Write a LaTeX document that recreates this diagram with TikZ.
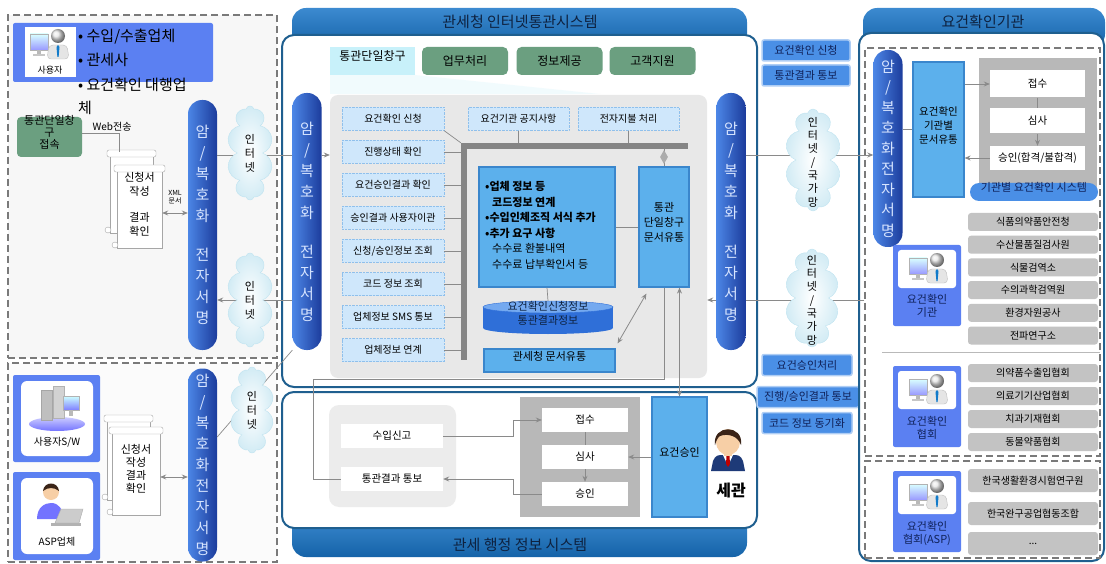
\documentclass[tikz,border=0pt]{standalone}
\usepackage{fontspec}
\setmainfont{Noto Sans CJK KR}
\usetikzlibrary{shapes.geometric,shapes.symbols,arrows.meta,fit,calc}

\definecolor{frameblue}{HTML}{1F5F8F}
\definecolor{hdrtop}{HTML}{3C8AD0}
\definecolor{hdrbot}{HTML}{1563A8}
\definecolor{titleink}{HTML}{0E2240}
\definecolor{pilllight}{HTML}{4C86E6}
\definecolor{pilldark}{HTML}{1C3C9C}
\definecolor{pillink}{HTML}{D6E4FF}
\definecolor{listfill}{HTML}{CFE7FB}
\definecolor{listedge}{HTML}{8FC0EC}
\definecolor{docblue}{HTML}{5CB0EC}
\definecolor{docedge}{HTML}{3A86CC}
\definecolor{dbblue}{HTML}{2F6FD8}
\definecolor{dbtop}{HTML}{74A9F0}
\definecolor{tabgreen}{HTML}{6B9F80}
\definecolor{tabcyan}{HTML}{C8F1FA}
\definecolor{userblue}{HTML}{5B80F2}
\definecolor{areagray}{HTML}{E8E8E8}
\definecolor{stepgray}{HTML}{B8B8B8}
\definecolor{orggray}{HTML}{C3C3C3}
\definecolor{tagblue}{HTML}{4A8FE6}
\definecolor{tagink}{HTML}{10225A}
\definecolor{busgray}{HTML}{858585}
\definecolor{arrowgray}{HTML}{8A8A8A}
\definecolor{dashgray}{HTML}{7A7A7A}
\definecolor{cloudedge}{HTML}{BFE3F0}
\definecolor{suit}{HTML}{1E3A78}
\definecolor{hair}{HTML}{3A2418}
\definecolor{skin}{HTML}{F7CFA6}

\newcommand\fsz[2]{\fontsize{#1}{#2}\selectfont}

% rolled paper form: body, roll on top, curl at the foot
\newcommand\sheet[4]{%
  \draw[gray!70, fill=white] (#1,#2) rectangle (#3,#4);
  \draw[gray!70, fill=white, rounded corners=2] (#1-3,#2-5) rectangle (#3+3,#2+2);
  \draw[gray!70, fill=white] (#1-2,#4-3) circle (3);}

% user at a screen
\newcommand\usericon[2]{%
  \begin{scope}[shift={(#1,#2)}]
    \shade[top color=cyan!15, bottom color=blue!40, draw=gray!60] (-20,-10) rectangle (-2,6);
    \fill[gray!55] (-13,6) rectangle (-9,10);
    \fill[gray!45] (-17,10) rectangle (-5,12);
    \fill[gray!20, draw=gray!50, rounded corners=4] (-3,15) -- (-1,1) -- (17,1) -- (19,15) -- cycle;
    \shade[ball color=gray!20] (8,-8) circle (7);
    \fill[cyan!60!blue] (8,1) -- (9.5,3) -- (8.6,13) -- (7.4,13) -- (6.5,3) -- cycle;
  \end{scope}}

\tikzset{
  every node/.style={inner sep=0pt},
  zone/.style={draw=dashgray, line width=1.3, dash pattern=on 7pt off 4pt},
  frame/.style={draw=frameblue, line width=2, fill=white, rounded corners=12},
  pill/.style={rounded corners=14, left color=pilllight, right color=pilldark, text=pillink,
    minimum width=29, align=center},
  lst/.style={draw=listedge, densely dotted, fill=listfill, minimum width=102, minimum height=23,
    font=\fsz{10}{12}},
  docbox/.style={draw=docedge, fill=docblue, line width=1.2},
  stepbox/.style={fill=white, minimum width=86, minimum height=24, font=\fsz{10.5}{12}},
  orgbox/.style={fill=orggray, rounded corners=3, minimum width=130, minimum height=18, font=\fsz{10}{12}},
  tag/.style={fill=tagblue, draw=tagblue!45, line width=1.5, rounded corners=2, minimum width=88,
    minimum height=21, text=tagink, font=\fsz{11}{12}},
  gtab/.style={fill=tabgreen, rounded corners=5, minimum width=86, minimum height=28, font=\fsz{12}{14}},
  net/.style={cloud, cloud puffs=10, aspect=0.5, inner color=white, outer color=cloudedge!70,
    draw=cloudedge},
  wire/.style={draw=arrowgray, line width=0.7},
  flow/.style={draw=arrowgray, line width=0.8, -{Stealth[length=6pt,width=5pt]}},
  both/.style={draw=arrowgray, line width=0.8, {Stealth[length=6pt,width=5pt]}-{Stealth[length=6pt,width=5pt]}},
}

\begin{document}
\begin{tikzpicture}[x=1pt,y=-1pt]
\useasboundingbox (0,0) rectangle (1106,564);

% ---------- applicants, web side
\node[zone, fill=gray!6, fit={(8,15)(277,358)}] (zoneWeb) {};
\node[fill=userblue, rounded corners=2, fit={(13,23)(213,82)}] (users) {};
\node[fill=white, fit={(25,27)(76,77)}] (userPic) {};
\usericon{50}{44}
\node[font=\fsz{9}{10}] (userLbl) at (50,70) {사용자};
\node[anchor=west, font=\fsz{15}{18}] (kind1) at (78,37) {• 수입/수출업체};
\node[anchor=west, font=\fsz{15}{18}] (kind2) at (78,60) {• 관세사};
\node[anchor=west, font=\fsz{15}{18}] (kind3) at (78,85) {• 요건확인 대행업};
\node[anchor=west, font=\fsz{15}{18}] (kind4) at (78,108) {체};
\node[fill=tabgreen, rounded corners=4, fit={(17,117)(82,157)}, align=center, font=\fsz{11}{12}] (portal) {통관단일창\\구\\접속};
\node[font=\fsz{10}{12}] (webLbl) at (112,127) {Web전송};
\coordinate (webIn) at (119,152);
\sheet{110}{155}{153}{233}
\sheet{117}{170}{162}{248}
\node[fit={(117,170)(162,248)}, align=center, font=\fsz{11}{14}] (formA) {신청서\\작성\\[12pt]결과\\확인};
\node[align=center, font=\fsz{7}{8}] (xmlLbl) at (175,197) {XML\\문서};
\draw[wire] (portal.east |- 0,133) -| (webIn);
\node[pill, minimum height=250, font=\fsz{15}{21}] (encL1) at (202.5,225) {암\\/\\복\\호\\화\\[18pt]전\\자\\서\\명};
\draw[both] (formA.east |- 0,213) -- (encL1.west |- 0,213);

% ---------- applicants, software side
\node[zone, fill=gray!3, fit={(8,363)(277,562)}] (zoneSW) {};
\node[fill=userblue, rounded corners=2, fit={(13,375)(100,462)}] (swBox) {};
\node[fill=white, rounded corners=6, fit={(21,381)(93,456)}] (swPic) {};
\begin{scope}[shift={(57,408)}]
  \shade[top color=blue!20, bottom color=blue!55] (0,16) ellipse (28 and 7);
  \fill[gray!50, draw=gray!70] (-16,-18) rectangle (-5,12);
  \fill[gray!35, draw=gray!60] (-4,-22) rectangle (7,10);
  \shade[top color=cyan!20, bottom color=blue!50, draw=gray!60] (6,-12) rectangle (22,2);
  \fill[gray!55] (12,2) rectangle (16,8);
\end{scope}
\node[font=\fsz{10}{12}] (swLbl) at (57,442) {사용자S/W};
\node[fill=userblue, rounded corners=2, fit={(13,472)(100,560)}] (aspBox) {};
\node[fill=white, rounded corners=6, fit={(21,478)(93,554)}] (aspPic) {};
\begin{scope}[shift={(57,505)}]
  \fill[blue!55] (-20,14) .. controls (-20,2) and (-12,-2) .. (-6,-2) .. controls (2,-2) and (6,4) .. (6,14) -- cycle;
  \fill[skin] (-6,-13) circle (8);
  \fill[hair] (-14,-14) .. controls (-13,-24) and (1,-24) .. (2,-14) .. controls (-3,-18) and (-9,-18) .. (-14,-14);
  \fill[gray!40, draw=gray!65] (-2,18) -- (4,4) -- (26,4) -- (22,18) -- cycle;
  \fill[gray!60] (-6,18) rectangle (24,21);
\end{scope}
\node[font=\fsz{10}{12}] (aspLbl) at (57,542) {ASP업체};
\sheet{107}{420}{150}{500}
\sheet{112}{432}{160}{515}
\node[fit={(112,432)(160,515)}, align=center, font=\fsz{11}{13}] (formB) {신청서\\작성\\결과\\확인};
\node[pill, minimum height=193, font=\fsz{15}{21}] (encL2) at (202.5,465) {암\\/\\복\\호\\화\\전\\자\\서\\명};
\draw[both] (formB.east |- 0,477) -- (encL2.west |- 0,477);

% ---------- internet clearance system
\shade[top color=hdrtop, bottom color=hdrbot, rounded corners=14] (292,48) -- (292,8) -- (747,8) -- (747,48) -- cycle;
\node[text=titleink, font=\fsz{15}{18}] (inetTitle) at (520,22) {관세청 인터넷통관시스템};
\node[frame, fit={(282,35)(757,387)}] (inet) {};
\fill[tabcyan!60, opacity=0.4] (330,75) -- (415,75) -- (600,94) -- (330,94) -- cycle;
\node[fill=tabcyan, fit={(330,47)(415,75)}, font=\fsz{12}{14}] (tabPortal) {통관단일창구};
\node[gtab] (tabWork) at (465,61) {업무처리};
\node[gtab] (tabInfo) at (559.5,61) {정보제공};
\node[gtab] (tabHelp) at (652.5,61) {고객지원};
\node[fill=areagray, rounded corners=8, fit={(330,95)(707,378)}] (counter) {};

\node[lst] (req) at (393,119) {요건확인 신청};
\node[lst] (track) at (393,152) {진행상태 확인};
\node[lst] (resChk) at (393,185) {요건승인결과 확인};
\node[lst] (handover) at (393,218) {승인결과 사용자이관};
\node[lst] (inquiry) at (393,251) {신청/승인정보 조회};
\node[lst] (codeInq) at (393,284) {코드 정보 조회};
\node[lst] (sms) at (393,317) {업체정보 SMS 통보};
\node[lst] (link) at (393,350) {업체정보 연계};
\node[lst, minimum width=101] (notice) at (518.5,119) {요건기관 공지사항};
\node[lst, minimum width=101] (epay) at (628.5,119) {전자지불 처리};

\node[fill=busgray, fit={(461,143)(467,360)}] (busV) {};
\node[fill=busgray, fit={(461,143)(688,149)}] (busH) {};
\draw[wire] (req.south east) -- (busV.north west);
\draw[wire] (track.east) -- (track.east -| busV.west);
\draw[wire] (resChk.east) -- (resChk.east -| busV.west);
\draw[wire] (handover.east) -- (handover.east -| busV.west);
\draw[wire] (inquiry.east) -- (inquiry.east -| busV.west);
\draw[wire] (codeInq.east) -- (codeInq.east -| busV.west);
\draw[wire] (sms.east) -- (sms.east -| busV.west);
\draw[wire] (link.east) -- (link.east -| busV.west);
\draw[wire] (notice.south) -- (notice.south |- busH.north);
\draw[wire] (epay.south) -- (epay.south |- busH.north);

\node[docbox, fit={(479,167)(615,287)}] (dataBox) {};
\node[anchor=north west, align=left, font=\fsz{11}{15.6}] (dataTxt) at (485,181) {%
  {\bfseries •업체 정보 등}\\
  \hspace*{7pt}{\bfseries 코드정보 연계}\\
  {\bfseries •수입인체조직 서식 추가}\\
  {\bfseries •추가 요구 사항}\\
  \hspace*{7pt}수수료 환불내역\\
  \hspace*{7pt}수수료 납부확인서 등};
\node[docbox, fit={(639,167)(689,287)}, align=center, font=\fsz{11}{15}] (hub) {통관\\단일창구\\문서유통};
\draw[wire] (busH.south -| hub.north) -- (hub.north);
\node[diamond, fill=gray!65, minimum width=8, minimum height=14] (joint) at (hub.north |- 0,157) {};
\draw[wire] (dataBox.east |- 0,227) -- (hub.west |- 0,227);

% database drum
\fill[dbblue] (483,307) rectangle (613,328);
\fill[dbblue] (548,328) ellipse (65 and 6);
\fill[dbtop, draw=dbblue] (548,307) ellipse (65 and 6);
\node[fit={(483,301)(613,334)}, align=center, text=titleink, font=\fsz{11}{14}] (db) {요건확인신청정보\\통관결과정보};
\draw[wire] (dataBox.south) -- (db.north);
\node[docbox, fit={(484,349)(615,372)}, font=\fsz{11}{12}] (docFlow) {관세청 문서유통};
\draw[both] ($(docFlow.north east)+(2,-5)$) -- ($(hub.south west)+(8,6)$);

\node[pill, minimum height=257, font=\fsz{15}{21}] (encC1) at (307,221.5) {암\\/\\복\\호\\화\\[18pt]전\\자\\서\\명};
\node[pill, minimum height=257, font=\fsz{15}{21}] (encC2) at (731,221.5) {암\\/\\복\\호\\화\\[18pt]전\\자\\서\\명};

% ---------- customs administration system
\shade[top color=hdrtop, bottom color=hdrbot, rounded corners=14] (292,515) -- (292,557) -- (747,557) -- (747,515) -- cycle;
\node[text=titleink, font=\fsz{15}{18}] (adminTitle) at (520,545) {관세 행정 정보 시스템};
\node[frame, fit={(282,392)(757,528)}] (unipass) {};
\node[fill=gray!15, rounded corners=10, fit={(329,405)(456,507)}] (desk) {};
\node[stepbox, minimum width=102] (declare) at (392,436) {수입신고};
\node[stepbox, minimum width=102] (notify) at (392,479) {통관결과 통보};
\node[fill=stepgray, fit={(520,397)(640,517)}] (procArea) {};
\node[stepbox] (recv) at (585,420) {접수};
\node[stepbox] (review) at (585,457) {심사};
\node[stepbox] (grant) at (585,494) {승인};
\node[docbox, fit={(652,397)(707,517)}, font=\fsz{11}{12}] (approve) {요건승인};
\draw[flow] (declare.east) -- (513,436) |- (recv.west);
\draw[wire] (recv.south) -- (review.north);
\draw[flow] (review.south) -- (grant.north);
\draw[flow] (grant.west) -- (513,494) |- (notify.east);
\draw[flow] (approve.west |- review.east) -- (review.east);
\draw[wire] (hub.south) -- (hub.south |- 0,379) -- (313,379) |- (notify.west);
\draw[both] (approve.north |- hub.south) -- (approve.north);

% customs officer
\begin{scope}[shift={(728,442)}]
  \fill[suit] (-17,29) -- (-15,19) .. controls (-12,13) .. (0,13) .. controls (12,13) .. (15,19) -- (17,29) -- cycle;
  \fill[white] (-5,13) -- (5,13) -- (0,24) -- cycle;
  \fill[red!75!black] (-1.5,14) -- (1.5,14) -- (2,22) -- (0,25) -- (-2,22) -- cycle;
  \fill[skin] (-4,8) rectangle (4,14);
  \fill[skin] (0,0) ellipse (12 and 13);
  \fill[hair] (-13,3) .. controls (-16,-18) and (16,-18) .. (13,3) .. controls (10,-6) and (0,-9) .. (-8,-6) .. controls (-11,-4) and (-12,0) .. (-13,3);
\end{scope}
\node[font=\fsz{16}{18}\bfseries] (officer) at (731,490) {세관};

% ---------- messages exchanged with the agencies
\node[tag] (tagReq) at (806,50.5) {요건확인 신청};
\node[tag] (tagRes) at (806,75.5) {통관결과 통보};
\node[tag, minimum width=90] (tagApp) at (807,365) {요건승인처리};
\node[tag, minimum width=102] (tagProg) at (808,397) {진행/승인결과 통보};
\node[tag, minimum width=90] (tagCode) at (807,423) {코드 정보 동기화};

% ---------- requirement confirmation agencies
\shade[top color=hdrtop, bottom color=hdrbot, rounded corners=14] (863,48) -- (863,8) -- (1105,8) -- (1105,48) -- cycle;
\node[text=titleink, font=\fsz{15}{18}] (agencyTitle) at (983,22) {요건확인기관};
\node[frame, fit={(859,33)(1104,561)}] (agency) {};
\node[zone, fit={(865,48)(1100,456)}] (zoneOrg) {};
\node[zone, fit={(865,461)(1100,558)}] (zoneAsp) {};
\node[pill, minimum height=197, font=\fsz{15}{20.5}] (encR) at (888,148.5) {암\\/\\복\\호\\화\\전\\자\\서\\명};
\node[docbox, fit={(913,62)(964,197)}, align=center, font=\fsz{10.5}{14}] (orgDoc) {요건확인\\기관별\\문서유통};
\node[fill=stepgray, fit={(979,58)(1097,190)}] (orgArea) {};
\node[stepbox, minimum width=95, minimum height=27] (orgRecv) at (1037.5,84) {접수};
\node[stepbox, minimum width=95, minimum height=25] (orgReview) at (1037.5,121) {심사};
\node[stepbox, minimum width=95, minimum height=24] (orgGrant) at (1037.5,158) {승인(합격/불합격)};
\node[fill=tagblue, rounded corners=9, fit={(970,183)(1098,201)}, text=tagink, font=\fsz{11}{12}] (orgSys) {기관별 요건확인 시스템};
\draw[flow] (orgDoc.east |- orgRecv.west) -- (orgRecv.west);
\draw[wire] (orgRecv.south) -- (orgReview.north);
\draw[flow] (orgReview.south) -- (orgGrant.north);
\draw[flow] (orgGrant.west) -- (orgDoc.east |- orgGrant.west);
\draw[wire] (encR.east |- orgDoc.west) -- (orgDoc.west);

\node[orgbox] (kfda) at (1033,222) {식품의약품안전청};
\node[orgbox] (nfqs) at (1033,244.7) {수산물품질검사원};
\node[orgbox] (npqs) at (1033,267.4) {식물검역소};
\node[orgbox] (nvrqs) at (1033,290) {수의과학검역원};
\node[orgbox] (envc) at (1033,312.8) {환경자원공사};
\node[orgbox] (rra) at (1033,335.5) {전파연구소};
\node[fill=userblue, rounded corners=2, fit={(893,245)(961,326)}] (orgA) {};
\node[fill=white, rounded corners=3, fit={(898,250)(956,288)}] (orgApic) {};
\usericon{929}{268}
\node[align=center, text=tagink, font=\fsz{11}{13}] (orgAlbl) at (927,306) {요건확인\\기관};
\draw[gray!55] (882,352) -- (1100,352);

\node[orgbox] (kpia) at (1033,373) {의약품수출입협회};
\node[orgbox] (kmdia) at (1033,396) {의료기기산업협회};
\node[orgbox] (kdta) at (1033,419) {치과기재협회};
\node[orgbox] (kahpa) at (1033,442) {동물약품협회};
\node[fill=userblue, rounded corners=2, fit={(893,366)(961,447)}] (orgB) {};
\node[fill=white, rounded corners=3, fit={(898,371)(956,409)}] (orgBpic) {};
\usericon{929}{389}
\node[align=center, text=tagink, font=\fsz{11}{13}] (orgBlbl) at (927,428) {요건확인\\협회};

\node[orgbox, minimum height=23] (ktr) at (1033,480.5) {한국생활환경시험연구원};
\node[orgbox, minimum height=23] (ktic) at (1033,513.5) {한국완구공업협동조합};
\node[orgbox, minimum height=23] (more) at (1033,543.5) {...};
\node[fill=userblue, rounded corners=2, fit={(893,471)(961,552)}] (orgC) {};
\node[fill=white, rounded corners=3, fit={(898,476)(956,514)}] (orgCpic) {};
\usericon{929}{494}
\node[align=center, text=tagink, font=\fsz{11}{13}] (orgClbl) at (927,533) {요건확인\\협회(ASP)};

% ---------- networks between the systems
\draw[wire] (encL1.east |- 0,155) -- (encC1.west |- 0,155);
\draw[flow] (encC1.east |- 0,155) -- (counter.west |- 0,155);
\draw[flow] (encC1.west |- 0,300) -- (encL1.east |- 0,300);
\draw[wire] (encL2.east |- 0,437) -- (encC1.south west);
\draw[flow] (encC2.east |- 0,155) -- (encR.west |- 0,155);
\draw[wire] (zoneOrg.west |- 0,300) -- (encC2.east |- 0,300);
\draw[flow] (encC2.west |- 0,300) -- (counter.east |- 0,300);

\node[net, minimum width=46, minimum height=94] (web1) at (250,153) {};
\node[align=center, font=\fsz{11}{14}] (web1Lbl) at (250,153) {인\\터\\넷};
\node[net, minimum width=46, minimum height=94] (web2) at (250,300) {};
\node[align=center, font=\fsz{11}{14}] (web2Lbl) at (250,300) {인\\터\\넷};
\node[net, minimum width=44, minimum height=86] (web3) at (252,410) {};
\node[align=center, font=\fsz{11}{14}] (web3Lbl) at (252,410) {인\\터\\넷};
\node[net, minimum width=56, minimum height=102] (gov1) at (813,160) {};
\node[align=center, font=\fsz{11}{13.3}] (gov1Lbl) at (813,162) {인\\터\\넷\\/\\국\\가\\망};
\node[net, minimum width=54, minimum height=98] (gov2) at (812,298) {};
\node[align=center, font=\fsz{11}{13.3}] (gov2Lbl) at (812,300) {인\\터\\넷\\/\\국\\가\\망};
\end{tikzpicture}
\end{document}
